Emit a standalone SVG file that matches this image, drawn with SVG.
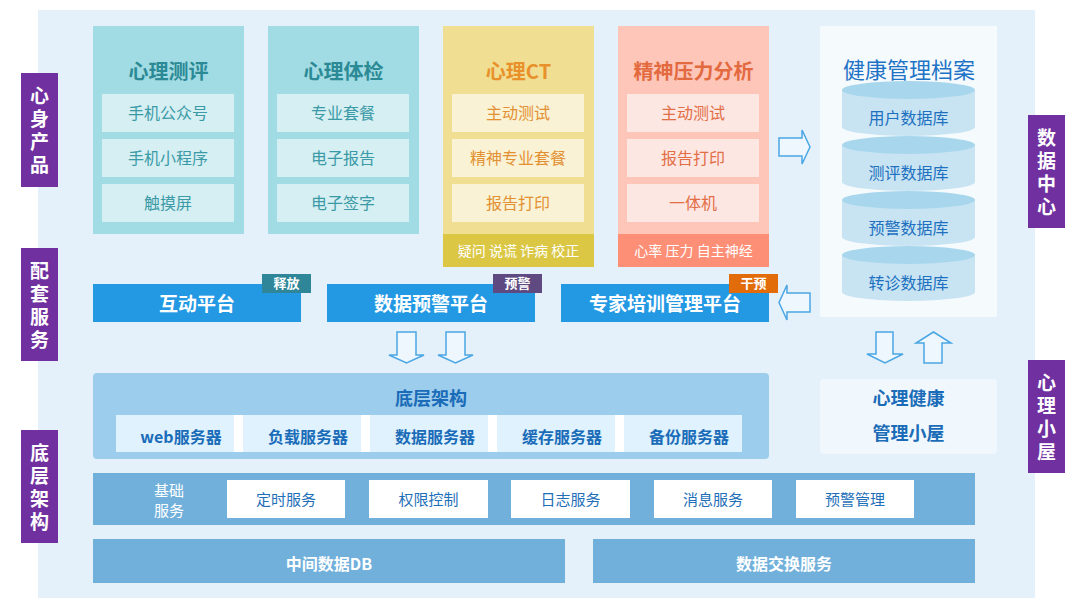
<svg xmlns="http://www.w3.org/2000/svg" width="1070" height="605" viewBox="0 0 1070 605">
<style>
text{font-family:"Noto Sans CJK SC","Noto Sans",sans-serif;dominant-baseline:central;text-anchor:middle;transform:translateY(-1px)}
.side{fill:#7030a0}
.sidet{fill:#fff;font-size:19px;font-weight:bold;writing-mode:vertical-rl;letter-spacing:4px;transform:none}
.ctitle{font-size:20px;font-weight:bold}
.item{font-size:16px}
.strip{font-size:14px;fill:#fff}
.plat{fill:#2399e4}
.platt{fill:#fff;font-size:19px;font-weight:bold}
.tagt{fill:#fff;font-size:13px;font-weight:bold}
.srv{fill:#dff2fd}
.srvt{fill:#1a6cb8;font-size:16px;font-weight:bold}
.bar{fill:#71b0db}
.wbox{fill:#fff}
.wboxt{fill:#1e6fb8;font-size:15px}
.bart{fill:#fff;font-size:16px;font-weight:bold}
.cyltop{fill:#a8d7ed}
.cylbody{fill:#c8e4f3}
.cylt{fill:#2070c0;font-size:16px}
.arr{fill:#eef7fd;stroke:#4aa6e4;stroke-width:1.5;stroke-linejoin:miter}
</style>
<rect x="0" y="0" width="1070" height="605" fill="#fff"/>
<rect x="38" y="10" width="997" height="588" fill="#e4f1fa"/>

<g id="side-xinshen">
<rect class="side" x="21" y="73" width="37" height="114"/>
<text class="sidet" x="39.5" y="132">心身产品</text>
</g>
<g id="side-peitao">
<rect class="side" x="21" y="248" width="37" height="113"/>
<text class="sidet" x="39.5" y="307">配套服务</text>
</g>
<g id="side-diceng">
<rect class="side" x="21" y="430" width="37" height="113"/>
<text class="sidet" x="39.5" y="489">底层架构</text>
</g>
<g id="side-shuju">
<rect class="side" x="1028" y="115" width="37" height="113"/>
<text class="sidet" x="1046.5" y="174">数据中心</text>
</g>
<g id="side-xiaowu">
<rect class="side" x="1028" y="360" width="37" height="113"/>
<text class="sidet" x="1046.5" y="419">心理小屋</text>
</g>

<g id="card-ceping">
<rect x="93" y="26" width="151" height="208" fill="#a1dbe3"/>
<text class="ctitle" x="168.5" y="71" fill="#2b8a95">心理测评</text>
<rect x="102" y="94" width="132" height="38" fill="#d5eff3"/>
<rect x="102" y="139" width="132" height="38" fill="#d5eff3"/>
<rect x="102" y="184" width="132" height="38" fill="#d5eff3"/>
<text class="item" x="168" y="113" fill="#3b9aa6">手机公众号</text>
<text class="item" x="168" y="158" fill="#3b9aa6">手机小程序</text>
<text class="item" x="168" y="203" fill="#3b9aa6">触摸屏</text>
</g>
<g id="card-tijian">
<rect x="268" y="26" width="151" height="208" fill="#a1dbe3"/>
<text class="ctitle" x="343.5" y="71" fill="#2b8a95">心理体检</text>
<rect x="277" y="94" width="132" height="38" fill="#d5eff3"/>
<rect x="277" y="139" width="132" height="38" fill="#d5eff3"/>
<rect x="277" y="184" width="132" height="38" fill="#d5eff3"/>
<text class="item" x="343" y="113" fill="#3b9aa6">专业套餐</text>
<text class="item" x="343" y="158" fill="#3b9aa6">电子报告</text>
<text class="item" x="343" y="203" fill="#3b9aa6">电子签字</text>
</g>
<g id="card-ct">
<rect x="443" y="26" width="151" height="208" fill="#f0de93"/>
<rect x="443" y="234" width="151" height="33" fill="#dbc744"/>
<text class="ctitle" x="518.5" y="71" fill="#e8912b">心理CT</text>
<rect x="452" y="94" width="132" height="38" fill="#f9f2d4"/>
<rect x="452" y="139" width="132" height="38" fill="#f9f2d4"/>
<rect x="452" y="184" width="132" height="38" fill="#f9f2d4"/>
<text class="item" x="518" y="113" fill="#e39033">主动测试</text>
<text class="item" x="518" y="158" fill="#e39033">精神专业套餐</text>
<text class="item" x="518" y="203" fill="#e39033">报告打印</text>
<text class="strip" x="518.5" y="250.5">疑问 说谎 诈病 校正</text>
</g>
<g id="card-yali">
<rect x="618" y="26" width="151" height="208" fill="#fec6b9"/>
<rect x="618" y="234" width="151" height="33" fill="#fe8f77"/>
<text class="ctitle" x="693.5" y="71" fill="#e36a3f">精神压力分析</text>
<rect x="627" y="94" width="132" height="38" fill="#fde7e3"/>
<rect x="627" y="139" width="132" height="38" fill="#fde7e3"/>
<rect x="627" y="184" width="132" height="38" fill="#fde7e3"/>
<text class="item" x="693" y="113" fill="#e26e46">主动测试</text>
<text class="item" x="693" y="158" fill="#e26e46">报告打印</text>
<text class="item" x="693" y="203" fill="#e26e46">一体机</text>
<text class="strip" x="693.5" y="250.5">心率 压力 自主神经</text>
</g>

<g id="archive">
<rect x="820" y="26" width="177" height="291" fill="#f5fafd"/>
<text x="909" y="69" fill="#1e73c6" style="font-size:22px">健康管理档案</text>
<g id="db-user">
<rect class="cylbody" x="842" y="90" width="133" height="37"/><ellipse class="cylbody" cx="908.5" cy="127" rx="66.5" ry="9"/><ellipse class="cyltop" cx="908.5" cy="90" rx="66.5" ry="9"/>
<text class="cylt" x="908.5" y="118">用户数据库</text>
</g>
<g id="db-ceping">
<rect class="cylbody" x="842" y="145" width="133" height="37"/><ellipse class="cylbody" cx="908.5" cy="182" rx="66.5" ry="9"/><ellipse class="cyltop" cx="908.5" cy="145" rx="66.5" ry="9"/>
<text class="cylt" x="908.5" y="173">测评数据库</text>
</g>
<g id="db-yujing">
<rect class="cylbody" x="842" y="200" width="133" height="37"/><ellipse class="cylbody" cx="908.5" cy="237" rx="66.5" ry="9"/><ellipse class="cyltop" cx="908.5" cy="200" rx="66.5" ry="9"/>
<text class="cylt" x="908.5" y="228">预警数据库</text>
</g>
<g id="db-zhuanzhen">
<rect class="cylbody" x="842" y="255" width="133" height="37"/><ellipse class="cylbody" cx="908.5" cy="292" rx="66.5" ry="9"/><ellipse class="cyltop" cx="908.5" cy="255" rx="66.5" ry="9"/>
<text class="cylt" x="908.5" y="283">转诊数据库</text>
</g>
</g>

<g id="plat-hudong">
<rect class="plat" x="93" y="284" width="208" height="38"/>
<text class="platt" x="197" y="303">互动平台</text>
<rect x="262" y="274" width="49" height="19" fill="#2e8698"/>
<text class="tagt" x="286.5" y="283.5">释放</text>
</g>
<g id="plat-yujing">
<rect class="plat" x="327" y="284" width="208" height="38"/>
<text class="platt" x="431" y="303">数据预警平台</text>
<rect x="493" y="274" width="49" height="19" fill="#5e4a80"/>
<text class="tagt" x="517.5" y="283.5">预警</text>
</g>
<g id="plat-zhuanjia">
<rect class="plat" x="561" y="284" width="208" height="38"/>
<text class="platt" x="665" y="303">专家培训管理平台</text>
<rect x="729" y="274" width="49" height="19" fill="#e26b0a"/>
<text class="tagt" x="753.5" y="283.5">干预</text>
</g>

<g id="infra">
<rect x="93" y="373" width="676" height="86" rx="4" fill="#9dcdec"/>
<text x="431" y="398" fill="#1a6cb8" style="font-size:18px;font-weight:bold">底层架构</text>
<rect x="116" y="415" width="626" height="37" fill="#fff"/>
<rect class="srv" x="116" y="415" width="118" height="37"/>
<rect class="srv" x="243" y="415" width="118" height="37"/>
<rect class="srv" x="370" y="415" width="118" height="37"/>
<rect class="srv" x="497" y="415" width="118" height="37"/>
<rect class="srv" x="624" y="415" width="118" height="37"/>
<text class="srvt" x="181" y="437">web服务器</text>
<text class="srvt" x="308" y="437">负载服务器</text>
<text class="srvt" x="435" y="437">数据服务器</text>
<text class="srvt" x="562" y="437">缓存服务器</text>
<text class="srvt" x="689" y="437">备份服务器</text>
</g>

<g id="xiaowu">
<rect x="820" y="379" width="177" height="75" rx="4" fill="#f1f8fd"/>
<text x="908.5" y="398" fill="#1a6cb8" style="font-size:18px;font-weight:bold">心理健康</text>
<text x="908.5" y="433" fill="#1a6cb8" style="font-size:18px;font-weight:bold">管理小屋</text>
</g>

<g id="base-services">
<rect class="bar" x="93" y="473" width="882" height="52"/>
<text x="169" y="490" fill="#fff" style="font-size:15px">基础</text>
<text x="169" y="510" fill="#fff" style="font-size:15px">服务</text>
<rect class="wbox" x="227" y="480" width="118" height="38"/>
<rect class="wbox" x="369" y="480" width="119" height="38"/>
<rect class="wbox" x="511" y="480" width="119" height="38"/>
<rect class="wbox" x="654" y="480" width="118" height="38"/>
<rect class="wbox" x="796" y="480" width="118" height="38"/>
<text class="wboxt" x="286" y="499">定时服务</text>
<text class="wboxt" x="428.5" y="499">权限控制</text>
<text class="wboxt" x="570.5" y="499">日志服务</text>
<text class="wboxt" x="713" y="499">消息服务</text>
<text class="wboxt" x="855" y="499">预警管理</text>
</g>
<g id="mid-db">
<rect class="bar" x="93" y="539" width="472" height="44"/>
<text class="bart" x="329" y="564">中间数据DB</text>
</g>
<g id="data-exchange">
<rect class="bar" x="593" y="539" width="382" height="44"/>
<text class="bart" x="784" y="564">数据交换服务</text>
</g>

<g id="connectors">
<path class="arr" d="M779,138 H802 V130 L810,147 L802,164 V156 H779 Z"/>
<path class="arr" d="M810,293 H787 V285 L779,302.5 L787,320 V312 H810 Z"/>
<path class="arr" d="M397,332 H416 V355 H424 L406.5,363 L389,355 H397 Z"/>
<path class="arr" d="M446,332 H465 V355 H473 L455.5,363 L438,355 H446 Z"/>
<path class="arr" d="M876,332 H893 V354 H903 L885,363 L867,354 H876 Z"/>
<path class="arr" d="M924,363 H942 V343 H951 L933.5,332 L916,343 H924 Z"/>
</g>
</svg>
